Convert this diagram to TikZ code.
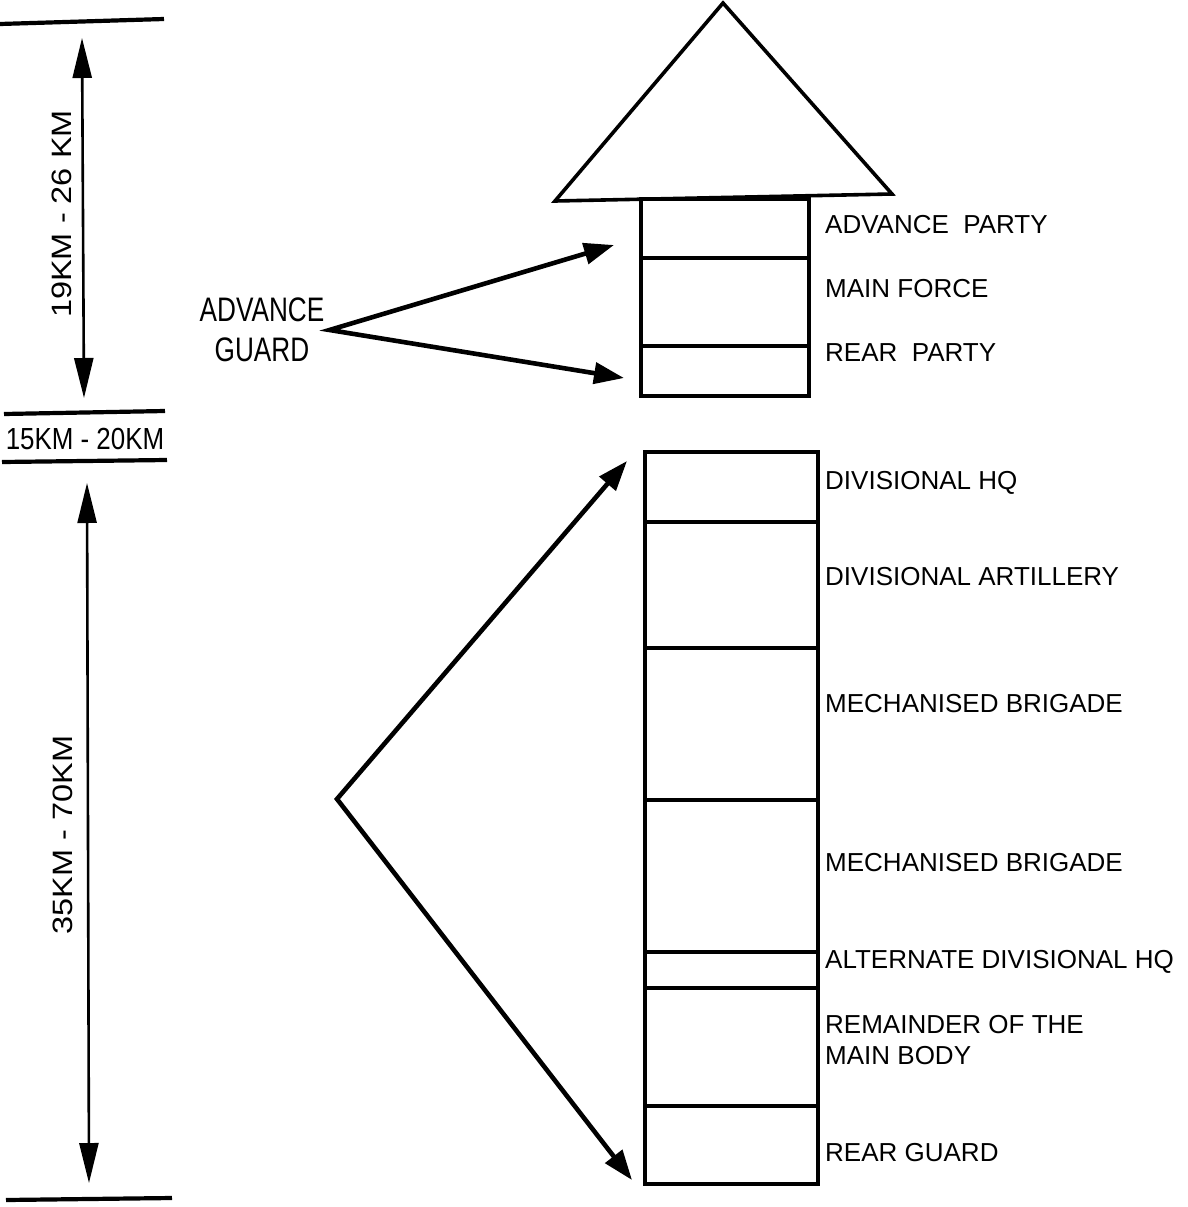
\documentclass[tikz,border=0pt]{standalone}
\usepackage{fontspec}
\setmainfont{Liberation Sans}
\usetikzlibrary{arrows.meta}
\begin{document}
\begin{tikzpicture}[x=1pt,y=-1pt,
  seg/.style={draw,line width=3.4pt,rectangle,inner sep=0pt,outer sep=0pt,minimum width=#1},
  lbl/.style={anchor=west,inner sep=0pt,font=\fontsize{26}{30}\selectfont,text height=18pt,text depth=0pt},
  dimlbl/.style={inner sep=0pt,font=\fontsize{28}{32}\selectfont},
  sepline/.style={line width=4.2pt},
  dimarrow/.style={line width=2.6pt,{Triangle[length=40pt,width=19pt]}-{Triangle[length=40pt,width=19pt]}},
  ptr/.style={line width=4.6pt,line join=miter,{Triangle[length=30pt,width=21pt]}-{Triangle[length=30pt,width=21pt]}}
]
\useasboundingbox (0,0) rectangle (1187,1207);

% left scale lines
\coordinate (l1a) at (0,24);   \coordinate (l1b) at (164,19);
\coordinate (l2a) at (4,414);  \coordinate (l2b) at (165,411);
\coordinate (l3a) at (2,462);  \coordinate (l3b) at (167,460);
\coordinate (l4a) at (6,1200); \coordinate (l4b) at (172,1198);
\draw[sepline] (l1a) -- (l1b);
\draw[sepline] (l2a) -- (l2b);
\draw[sepline] (l3a) -- (l3b);
\draw[sepline] (l4a) -- (l4b);

% dimension arrows
\coordinate (d1t) at (82,38);  \coordinate (d1b) at (84,398);
\coordinate (d2t) at (87,483); \coordinate (d2b) at (89,1183);
\draw[dimarrow] (d1t) -- (d1b);
\draw[dimarrow] (d2t) -- (d2b);

\node[dimlbl,rotate=90] (k1) at (62,214) {\scalebox{1.16}[1]{19KM - 26 KM}};
\node[inner sep=0pt,font=\fontsize{30.5}{34}\selectfont] (k2) at (85,439) {\scalebox{0.85}[1]{15KM - 20KM}};
\node[dimlbl,rotate=90] (k3) at (63,835) {\scalebox{1.16}[1]{35KM - 70KM}};

% arrow head (triangle)
\draw[line width=3.6pt,line join=miter] (555,201) -- (723,3) -- (892,194) -- cycle;

% upper column
\node[seg=168pt,minimum height=59pt] (ap) at (725,228.5) {};
\node[seg=168pt,minimum height=88pt] (mf) at (725,302) {};
\node[seg=168pt,minimum height=50pt] (rp) at (725,371) {};

% lower column
\node[seg=173pt,minimum height=70pt]  (dhq) at (731.5,487) {};
\node[seg=173pt,minimum height=126pt] (dart) at (731.5,585) {};
\node[seg=173pt,minimum height=152pt] (mb1) at (731.5,724) {};
\node[seg=173pt,minimum height=152pt] (mb2) at (731.5,876) {};
\node[seg=173pt,minimum height=36pt]  (adhq) at (731.5,970) {};
\node[seg=173pt,minimum height=118pt] (rem) at (731.5,1047) {};
\node[seg=173pt,minimum height=78pt]  (rg) at (731.5,1145) {};

% labels
\node[lbl] (tap) at (825,224) {ADVANCE\ \ PARTY};
\node[lbl] (tmf) at (825,288) {MAIN FORCE};
\node[lbl] (trp) at (825,352) {REAR\ \ PARTY};
\node[lbl] (tdhq) at (825,480) {DIVISIONAL HQ};
\node[lbl] (tdart) at (825,576) {DIVISIONAL ARTILLERY};
\node[lbl] (tmb1) at (825,703) {MECHANISED BRIGADE};
\node[lbl] (tmb2) at (825,862) {MECHANISED BRIGADE};
\node[lbl] (tadhq) at (825,959) {ALTERNATE\ DIVISIONAL\ HQ};
\node[anchor=west,inner sep=0pt,align=left,font=\fontsize{26}{31}\selectfont] (trem) at (825,1040) {REMAINDER OF THE\\MAIN BODY};
\node[lbl] (trg) at (825,1152) {REAR GUARD};

% advance guard
\node[inner sep=5pt,align=center,font=\fontsize{34}{40}\selectfont] (ag) at (262,330) {\scalebox{0.77}[1]{ADVANCE}\\\scalebox{0.77}[1]{GUARD}};
\coordinate (agu) at (614,245);
\coordinate (agl) at (624,378);
\draw[ptr] (agu) -- (ag.east) -- (agl);

% main body
\coordinate (mbv) at (337,799);
\coordinate (mbu) at (627,461);
\coordinate (mbl) at (632,1180);
\draw[ptr] (mbu) -- (mbv) -- (mbl);
\end{tikzpicture}
\end{document}
